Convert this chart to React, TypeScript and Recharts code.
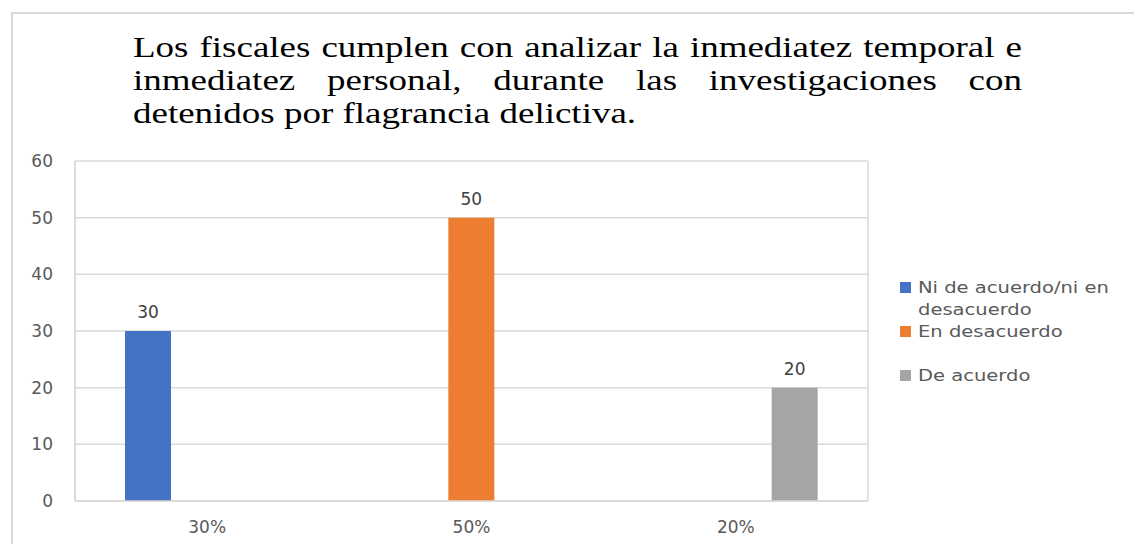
import { BarChart, Bar, XAxis, YAxis, CartesianGrid, Legend, LabelList } from "recharts";

const categories = ["30%", "50%", "20%"];
const seriesNames = ["Ni de acuerdo/ni en desacuerdo", "En desacuerdo", "De acuerdo"];
const niDeAcuerdo = [30, null, null];
const enDesacuerdo = [null, 50, null];
const deAcuerdo = [null, null, 20];
const yTicks = [0, 10, 20, 30, 40, 50, 60];
const titleLines = [
  "Los fiscales cumplen con analizar la inmediatez temporal e",
  "inmediatez personal, durante las investigaciones con",
  "detenidos por flagrancia delictiva.",
];

const colors = ["#4472C4", "#ED7D31", "#A5A5A5"];
const textColor = "#595959";
const gridColor = "#d9d9d9";
const font = "'DejaVu Sans', sans-serif";

const data = categories.map((c, i) => ({
  name: c,
  s0: niDeAcuerdo[i],
  s1: enDesacuerdo[i],
  s2: deAcuerdo[i],
}));

// legend keeps the series order, text stretched a bit like the original
const renderLegend = (props: any) => {
  const items = [...(props.payload || [])].sort(
    (a: any, b: any) => seriesNames.indexOf(a.value) - seriesNames.indexOf(b.value)
  );
  return (
    <div>
      {items.map((entry: any) => (
        <div key={entry.value} style={{ display: "flex", alignItems: "flex-start", height: 44 }}>
          <span
            style={{
              width: 11,
              height: 11,
              background: entry.color,
              marginTop: 5,
              marginRight: 7,
              flex: "none",
            }}
          />
          <span
            style={{
              display: "block",
              width: 165,
              lineHeight: "22px",
              fontSize: 16,
              color: textColor,
              fontFamily: font,
              transform: "scaleX(1.22)",
              transformOrigin: "left top",
            }}
          >
            {entry.value}
          </span>
        </div>
      ))}
    </div>
  );
};

const fmt = (v: any) => (v == null ? "" : v);

export default function App() {
  const scale = 1.275;
  return (
    <div style={{ position: "absolute", left: 0, top: 0, width: 1134, height: 544, background: "#fff", overflow: "hidden" }}>
      <div
        style={{
          position: "absolute",
          left: 11,
          top: 12,
          width: 1140,
          height: 560,
          borderTop: `2px solid ${gridColor}`,
          borderLeft: `2px solid ${gridColor}`,
        }}
      />
      <div
        style={{
          position: "absolute",
          left: 133,
          top: 31,
          width: 889 / scale,
          transform: `scaleX(${scale})`,
          transformOrigin: "left top",
          fontFamily: "'Liberation Serif', 'Times New Roman', serif",
          fontSize: 29,
          lineHeight: "33px",
          color: "#000",
        }}
      >
        {titleLines.map((line, i) => (
          <div
            key={i}
            style={{
              whiteSpace: "nowrap",
              textAlign: i < 2 ? "justify" : "left",
              textAlignLast: i < 2 ? "justify" : "left",
            }}
          >
            {line}
          </div>
        ))}
      </div>
      <div style={{ position: "absolute", left: 0, top: 0 }}>
        <BarChart
          width={1134}
          height={544}
          data={data}
          margin={{ top: 161, right: 266, bottom: 13, left: 0 }}
          barSize={46}
          barGap={13}
        >
          <CartesianGrid
            stroke={gridColor}
            strokeWidth={1.5}
            verticalCoordinatesGenerator={(p: any) => [p.offset.left, p.offset.left + p.offset.width]}
          />
          <XAxis
            dataKey="name"
            tickLine={false}
            tickSize={0}
            tickMargin={20}
            height={30}
            axisLine={{ stroke: gridColor, strokeWidth: 1.5 }}
            tick={{ fill: textColor, fontSize: 17, fontFamily: font }}
          />
          <YAxis
            domain={[0, 60]}
            ticks={yTicks}
            width={75}
            tickLine={false}
            tickSize={0}
            tickMargin={22}
            axisLine={{ stroke: gridColor, strokeWidth: 1.5 }}
            tick={{ fill: textColor, fontSize: 17, fontFamily: font }}
          />
          <Legend
            layout="vertical"
            align="center"
            verticalAlign="middle"
            content={renderLegend}
            wrapperStyle={{ left: 900, top: 277, width: 230 }}
          />
          {["s0", "s1", "s2"].map((k, i) => (
            <Bar key={k} dataKey={k} name={seriesNames[i]} fill={colors[i]} isAnimationActive={false}>
              <LabelList
                dataKey={k}
                position="top"
                offset={13}
                formatter={fmt}
                fill="#404040"
                fontSize={17}
                fontFamily={font}
              />
            </Bar>
          ))}
        </BarChart>
      </div>
    </div>
  );
}
